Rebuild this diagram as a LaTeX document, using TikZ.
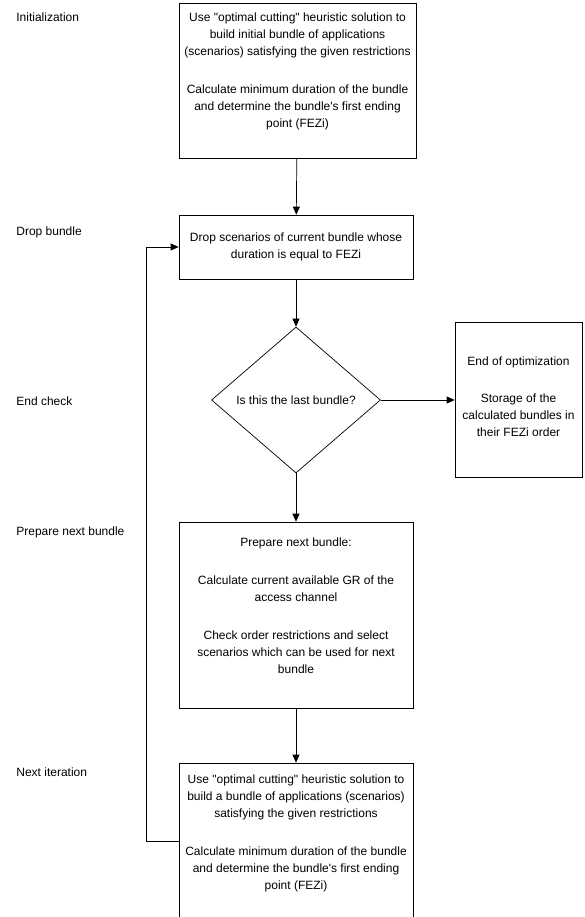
\documentclass[tikz,border=0pt]{standalone}
\usepackage{fontspec}
\newfontfamily\flowfont{Liberation Sans}
\usetikzlibrary{shapes.geometric,arrows.meta}
% text block raised inside its frame, frame size unchanged
\newcommand\lifted[2]{\raisebox{#1}[\height][\depth]{\begin{tabular}{@{}c@{}}#2\end{tabular}}}

\begin{document}
\begin{tikzpicture}[x=1pt, y=-1pt, line width=0.7pt,
  stepbox/.style={draw, align=center, inner sep=0pt, font=\flowfont\fontsize{12}{17}\selectfont},
  phase/.style={anchor=west, inner sep=0pt, font=\flowfont\fontsize{12}{17}\selectfont},
  flow/.style={-{Triangle[length=8pt, width=7pt]}}]
  \useasboundingbox (0,0) rectangle (584,917);
  \clip (0,0) rectangle (584,917);
  % phases on the left
  \node[phase] (pInit) at (16,17) {Initialization};
  \node[phase] (pDrop) at (16,232) {Drop bundle};
  \node[phase] (pEnd) at (16,401) {End check};
  \node[phase] (pPrep) at (16,532) {Prepare next bundle};
  \node[phase] (pNext) at (16,772) {Next iteration};
  % main column
  \node[stepbox, minimum width=237pt, minimum height=155pt] (init) at (297.5,80.5)
    {\lifted{9pt}{Use "optimal cutting" heuristic solution to\\ build initial bundle of applications\\
     (scenarios) satisfying the given restrictions\\[21pt]
     Calculate minimum duration of the bundle\\ and determine the bundle's first ending\\ point (FEZi)}};
  \node[stepbox, minimum width=234pt, minimum height=64pt] (drop) at (296,247)
    {Drop scenarios of current bundle whose\\ duration is equal to FEZi};
  \node[draw, diamond, minimum width=169pt, minimum height=146pt, inner sep=0pt,
    font=\flowfont\fontsize{12}{17}\selectfont] (last) at (296,400) {Is this the last bundle?};
  \node[stepbox, minimum width=127pt, minimum height=155pt] (end) at (518.5,400)
    {\lifted{2pt}{End of optimization\\[20pt] Storage of the\\ calculated bundles in\\ their FEZi order}};
  \node[stepbox, minimum width=234pt, minimum height=186pt] (prep) at (296,615)
    {\lifted{8pt}{Prepare next bundle:\\[21pt] Calculate current available GR of the\\ access channel\\[21pt]
     Check order restrictions and select\\ scenarios which can be used for next\\ bundle}};
  \node[stepbox, minimum width=234pt, minimum height=156pt] (next) at (296,841)
    {\lifted{8pt}{Use "optimal cutting" heuristic solution to\\ build a bundle of applications (scenarios)\\
     satisfying the given restrictions\\[21pt]
     Calculate minimum duration of the bundle\\ and determine the bundle's first ending\\ point (FEZi)}};
  % connectors
  \draw[flow] (init) -- (drop);
  \draw[flow] (drop) -- (last);
  \draw[flow] (last) -- (end); % finished
  \draw[flow] (last) -- (prep); % go on
  \draw[flow] (prep) -- (next);
  \draw[flow] (next.west) -- ++(-32,0) |- (drop.west); % loop back
\end{tikzpicture}
\end{document}
